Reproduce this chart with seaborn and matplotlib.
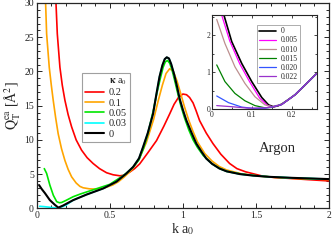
import matplotlib
matplotlib.use('Agg')
import matplotlib.pyplot as plt
import seaborn as sns
from matplotlib.ticker import MultipleLocator

# main panel: Q_T^ea vs k a0 for several kappa a0
k_red = [0.132, 0.141, 0.159, 0.175, 0.193, 0.215, 0.239, 0.27, 0.307, 0.345, 0.386, 0.43, 0.478, 0.523, 0.57,
         0.6, 0.637, 0.67, 0.705, 0.76, 0.82, 0.87, 0.91, 0.94, 0.97, 1.0, 1.025, 1.046, 1.07, 1.09, 1.115, 1.16,
         1.206, 1.26, 1.32, 1.37, 1.43, 1.5, 1.547, 1.63, 1.73, 1.85, 2.0]
q_red = [30, 25.5, 20.6, 18.0, 15.8, 13.7, 11.9, 10.0, 8.5, 7.4, 6.55, 5.8, 5.2, 4.9, 4.75,
         4.85, 5.3, 5.8, 6.5, 8.1, 9.9, 12.0, 13.8, 15.2, 16.2, 16.7, 16.6, 16.2, 15.4, 14.3, 12.8, 11.0,
         9.46, 7.9, 6.55, 5.8, 5.33, 4.95, 4.7, 4.5, 4.37, 4.2, 4.0]

k_orange = [0.061, 0.068, 0.086, 0.1, 0.113, 0.13, 0.147, 0.17, 0.193, 0.215, 0.239, 0.27, 0.296, 0.318, 0.36,
            0.41, 0.46, 0.52, 0.56, 0.6, 0.65, 0.7, 0.75, 0.8, 0.83, 0.86, 0.885, 0.91, 0.935, 0.96, 0.985,
            1.01, 1.04, 1.07, 1.1, 1.15, 1.2, 1.25, 1.3, 1.4, 1.5, 1.6, 1.75, 2.0]
q_orange = [30, 25.5, 20.6, 18.0, 15.8, 13.2, 10.9, 8.7, 7.0, 5.7, 4.6, 3.7, 3.2, 3.0, 2.85,
            2.8, 2.95, 3.4, 3.9, 4.6, 5.6, 7.2, 9.6, 13.0, 15.6, 18.0, 19.7, 20.4, 20.0, 18.6, 16.8,
            14.9, 12.9, 11.2, 9.7, 8.0, 6.9, 6.1, 5.6, 5.05, 4.75, 4.55, 4.38, 4.2]

k_green = [0.052, 0.068, 0.09, 0.114, 0.137, 0.155, 0.17, 0.2, 0.25, 0.3, 0.4, 0.5, 0.6, 0.66, 0.7, 0.73,
           0.76, 0.8, 0.82, 0.845, 0.865, 0.88, 0.895, 0.91, 0.925, 0.945, 0.965, 0.985, 1.01, 1.04, 1.07,
           1.1, 1.14, 1.2, 1.25, 1.3, 1.4, 1.5, 1.6, 1.75, 2.0]
q_green = [5.8, 5.1, 3.4, 1.9, 0.97, 0.82, 0.85, 1.15, 1.7, 2.1, 2.8, 3.5, 4.9, 6.0, 7.1, 8.7,
           10.8, 14.5, 16.6, 18.9, 20.6, 21.4, 21.6, 21.2, 20.3, 18.6, 16.8, 15.1, 13.3, 11.5, 10.0,
           8.9, 7.7, 6.5, 5.85, 5.4, 5.0, 4.77, 4.6, 4.43, 4.25]

k_cyan = [0.02, 0.05, 0.08, 0.11, 0.14, 0.17, 0.2, 0.25, 0.34, 0.455, 0.546, 0.614, 0.66, 0.7, 0.728, 0.76,
          0.796, 0.82, 0.84, 0.86, 0.876, 0.89, 0.905, 0.92, 0.94, 0.96, 0.978, 1.0, 1.024, 1.06, 1.092,
          1.13, 1.16, 1.2, 1.25, 1.3, 1.39, 1.48, 1.59, 1.75, 2.0]
q_cyan = [0.3, 0.25, 0.18, 0.1, 0.05, 0.2, 0.45, 1.2, 2.0, 2.9, 3.9, 5.1, 6.05, 7.3, 8.97, 11.0,
          13.8, 16.8, 19.2, 20.9, 21.8, 22.05, 21.9, 21.1, 19.6, 17.8, 16.0, 14.4, 12.85, 11.0, 9.46,
          8.2, 7.28, 6.5, 5.82, 5.4, 5.0, 4.78, 4.6, 4.45, 4.27]

k_black = [0.016, 0.035, 0.057, 0.09, 0.125, 0.148, 0.18, 0.25, 0.34, 0.455, 0.546, 0.614, 0.66, 0.7, 0.728,
           0.76, 0.796, 0.82, 0.84, 0.86, 0.876, 0.89, 0.905, 0.92, 0.94, 0.96, 0.978, 1.0, 1.024, 1.06,
           1.092, 1.13, 1.16, 1.2, 1.25, 1.3, 1.39, 1.48, 1.59, 1.75, 2.0]
q_black = [3.4, 2.8, 2.2, 1.2, 0.5, 0.1, 0.4, 1.2, 2.0, 2.9, 3.9, 5.1, 6.05, 7.3, 8.97,
           11.0, 13.8, 16.8, 19.2, 20.9, 21.8, 22.07, 21.9, 21.1, 19.6, 17.8, 16.0, 14.4, 12.85, 11.0,
           9.46, 8.2, 7.28, 6.5, 5.82, 5.4, 5.0, 4.78, 4.6, 4.45, 4.27]

main_labels = ['0.2', '0.1', '0.05', '0.03', '0']
main_colors = ['#ff0000', '#ffa500', '#00e600', '#00ffff', '#000000']

# inset: low-k region, small kappa
ki_0 = [0.025, 0.05, 0.075, 0.1, 0.125, 0.142, 0.154, 0.165, 0.175, 0.19, 0.208, 0.23, 0.2625]
qi_0 = [2.75, 1.83, 1.24, 0.75, 0.32, 0.12, 0.07, 0.09, 0.14, 0.25, 0.39, 0.62, 0.97]
ki_005 = [0.022, 0.045, 0.07, 0.095, 0.12, 0.14, 0.155, 0.175, 0.208, 0.2625]
qi_005 = [2.65, 1.85, 1.23, 0.74, 0.3, 0.1, 0.06, 0.13, 0.39, 0.97]
ki_010 = [0.0125, 0.033, 0.058, 0.083, 0.108, 0.133, 0.15, 0.175, 0.208, 0.2625]
qi_010 = [2.43, 1.78, 1.15, 0.70, 0.34, 0.12, 0.07, 0.14, 0.39, 0.97]
ki_015 = [0.0125, 0.033, 0.058, 0.083, 0.108, 0.133, 0.15, 0.175, 0.208, 0.2625]
qi_015 = [1.2, 0.75, 0.43, 0.23, 0.1, 0.04, 0.05, 0.13, 0.39, 0.97]
ki_020 = [0.0125, 0.042, 0.075, 0.108, 0.133, 0.15, 0.175, 0.208, 0.2625]
qi_020 = [0.36, 0.18, 0.06, 0.02, 0.03, 0.06, 0.13, 0.39, 0.97]
ki_022 = [0.0125, 0.05, 0.092, 0.133, 0.15, 0.175, 0.208, 0.2625]
qi_022 = [0.1, 0.07, 0.03, 0.04, 0.06, 0.13, 0.39, 0.97]

inset_labels = ['0', '0.005', '0.010', '0.015', '0.020', '0.022']
inset_colors = ['#000000', '#ff00ff', '#bc8f8f', '#008000', '#3355ff', '#9932cc']

sns.set_style('ticks')
plt.rcParams['font.family'] = ['Liberation Serif', 'DejaVu Serif']
plt.rcParams['mathtext.fontset'] = 'stix'

fig = plt.figure(figsize=(3.32, 2.4), dpi=100)
ax = fig.add_axes([0.1105, 0.132, 0.8805, 0.8555])

main_k = [k_red, k_orange, k_green, k_cyan, k_black]
main_q = [q_red, q_orange, q_green, q_cyan, q_black]
for kk, qq, lab, col in zip(main_k, main_q, main_labels, main_colors):
    lw = 1.5 if lab == '0' else 1.2
    sns.lineplot(x=kk, y=qq, ax=ax, color=col, lw=lw, label=lab, sort=False, estimator=None)

ax.set_xlim(0, 2)
ax.set_ylim(0, 30)
ax.xaxis.set_major_locator(MultipleLocator(0.5))
ax.xaxis.set_minor_locator(MultipleLocator(0.1))
ax.yaxis.set_major_locator(MultipleLocator(5))
ax.yaxis.set_minor_locator(MultipleLocator(1))
ax.set_xticks([0, 0.5, 1, 1.5, 2])
ax.set_xticklabels(['0', '0.5', '1', '1.5', '2'])
ax.tick_params(which='both', direction='in', top=True, right=True, labelsize=7, pad=2, width=0.7)
ax.tick_params(which='major', length=3.5)
ax.tick_params(which='minor', length=2)
for s in ax.spines.values():
    s.set_linewidth(0.9)
ax.set_xlabel(r'k a$_0$', fontsize=10, labelpad=1)
ax.set_ylabel(r'$\mathrm{Q_T^{ea}}$ [Å$^2$]', fontsize=10, labelpad=1)
ax.text(1.65, 8.8, 'Argon', fontsize=10.5, ha='center', va='center')

leg = ax.legend(title=r'$\mathbf{\kappa}$ a$_0$', loc='upper left', bbox_to_anchor=(0.155, 0.657),
                borderaxespad=0, fontsize=7.5, title_fontsize=7, frameon=True, fancybox=False,
                edgecolor='#888888', handlelength=1.8, handletextpad=0.5, labelspacing=0.1,
                borderpad=0.3)
leg.get_frame().set_linewidth(0.8)
leg._legend_box.align = 'right'

# inset
ins = fig.add_axes([0.6377, 0.5446, 0.3163, 0.393])
inset_k = [ki_0, ki_005, ki_010, ki_015, ki_020, ki_022]
inset_q = [qi_0, qi_005, qi_010, qi_015, qi_020, qi_022]
for kk, qq, lab, col in zip(inset_k, inset_q, inset_labels, inset_colors):
    lw = 1.2 if lab == '0' else 0.9
    sns.lineplot(x=kk, y=qq, ax=ins, color=col, lw=lw, label=lab, sort=False, estimator=None)
ins.set_xlim(0, 0.2625)
ins.set_ylim(0, 2.55)
ins.set_xticks([0, 0.1, 0.2])
ins.set_xticklabels(['0', '0.1', '0.2'])
ins.set_yticks([0, 1, 2])
ins.xaxis.set_minor_locator(MultipleLocator(0.05))
ins.yaxis.set_minor_locator(MultipleLocator(0.5))
ins.tick_params(which='both', direction='in', top=True, right=True, labelsize=5.5, pad=1, width=0.6)
ins.tick_params(which='major', length=2.5)
ins.tick_params(which='minor', length=1.5)
for s in ins.spines.values():
    s.set_linewidth(0.8)
ins.set_xlabel('')
ins.set_ylabel('')
leg2 = ins.legend(loc='upper left', bbox_to_anchor=(0.43, 0.894), borderaxespad=0, fontsize=5.5,
                  frameon=True, fancybox=False, edgecolor='#888888', handlelength=2.2,
                  handletextpad=0.6, labelspacing=0.15, borderpad=0.3)
leg2.get_frame().set_linewidth(0.6)

fig.savefig('out.png', dpi=100)
